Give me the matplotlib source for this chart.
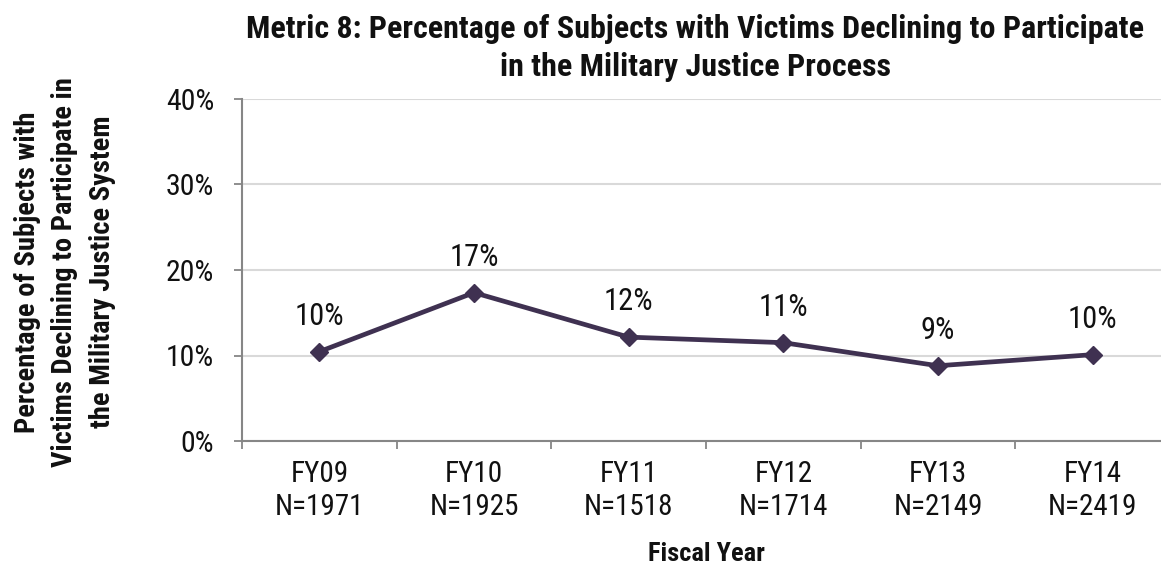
import matplotlib
matplotlib.use('Agg')
from matplotlib import pyplot as plt

# data
years = ['FY09', 'FY10', 'FY11', 'FY12', 'FY13', 'FY14']
counts = [1971, 1925, 1518, 1714, 2149, 2419]
pct = [10.45, 17.35, 12.15, 11.5, 8.8, 10.1]
pctLabels = ['10%', '17%', '12%', '11%', '9%', '10%']
yTicks = [0, 10, 20, 30, 40]
titleLines = ['Metric 8: Percentage of Subjects with Victims Declining to Participate',
              'in the Military Justice Process']
yLabelLines = ['Percentage of Subjects with',
               'Victims Declining to Participate in',
               'the Military Justice System']

lineColor = '#3f3151'
gridColor = '#d9d9d9'
axisColor = '#868686'
textColor = '#111111'
narrow = ['Arial Narrow', 'Liberation Sans Narrow', 'Roboto Condensed',
          'PT Sans Narrow', 'Archivo Narrow', 'Barlow Condensed', 'DejaVu Sans']

plt.rcParams['font.family'] = narrow

W, H = 1161, 564
fig = plt.figure(figsize=(W / 100, H / 100), dpi=100)
# axes spans past the right edge, as in the reference
left, right, top, bottom = 242, 1170, 99, 441
ax = fig.add_axes([left / W, 1 - bottom / H, (right - left) / W, (bottom - top) / H])

x = list(range(len(years)))
ax.plot(x, pct, color=lineColor, lw=3.4, marker='D', ms=9.5, mew=1, zorder=3,
        clip_on=False)
for xi, yi, lab in zip(x, pct, pctLabels):
    ax.annotate(lab, (xi, yi), xytext=(0, 19.5), textcoords='offset points',
                ha='center', va='baseline', fontsize=22, color=textColor)

ax.set_xlim(-0.5, len(years) - 0.5)
ax.set_ylim(0, 40)

ax.set_yticks(yTicks)
ax.set_yticklabels([str(t) + '%' for t in yTicks], fontsize=21.5, color=textColor)
ax.yaxis.grid(True, color=gridColor, lw=1.5)
ax.set_axisbelow(True)

# ticks between categories, labels centered on categories
ax.set_xticks([i - 0.5 for i in range(len(years) + 1)])
ax.set_xticklabels([])
ax.set_xticks(x, minor=True)
ax.set_xticklabels([y + '\nN=' + str(n) for y, n in zip(years, counts)],
                   minor=True, fontsize=21, color=textColor, linespacing=1.2)
ax.tick_params(axis='x', which='minor', length=0, pad=14)
ax.tick_params(axis='both', which='major', length=6, width=1.3, color=axisColor)
ax.tick_params(axis='y', pad=14)

for s in ['top', 'right']:
    ax.spines[s].set_visible(False)
for s in ['left', 'bottom']:
    ax.spines[s].set_color(axisColor)
    ax.spines[s].set_linewidth(1.5)

for line, base in zip(titleLines, [38, 76.5]):
    fig.text(695 / W, 1 - base / H, line, ha='center', va='baseline',
             fontsize=23, fontweight='bold', color=textColor)
for line, base in zip(yLabelLines, [35, 72.5, 110]):
    fig.text(base / W, 1 - 272 / H, line, rotation=90, rotation_mode='anchor',
             ha='center', va='baseline', fontsize=20.5, fontweight='bold',
             color=textColor)
fig.text(706 / W, 1 - 561 / H, 'Fiscal Year', ha='center', va='baseline',
         fontsize=19, fontweight='bold', color=textColor)

fig.savefig('out.png', dpi=100)
